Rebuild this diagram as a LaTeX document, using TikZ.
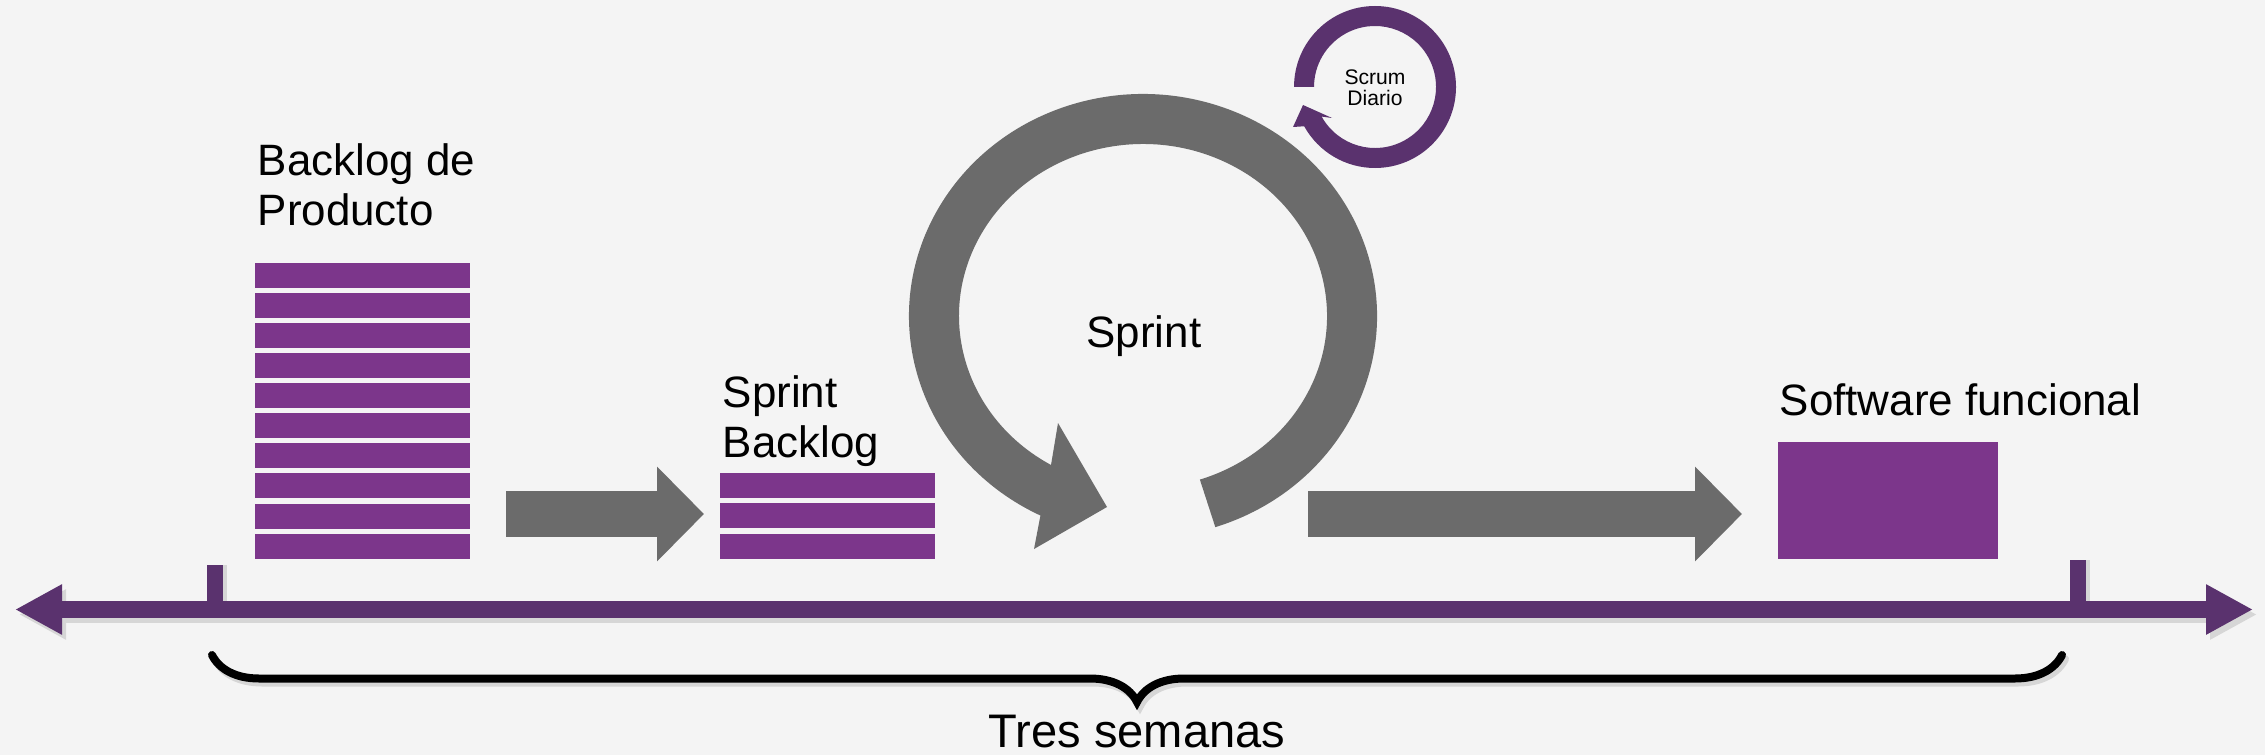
\documentclass[tikz,border=0pt]{standalone}
\usepackage{fontspec}
\setmainfont{Liberation Sans}
\usetikzlibrary{arrows.meta,positioning,decorations.pathreplacing}

\definecolor{canvas}{RGB}{244,244,244}
\definecolor{itempurple}{RGB}{124,54,139}
\definecolor{darkpurple}{RGB}{90,50,110}
\definecolor{flowgray}{RGB}{107,107,107}
\definecolor{shadowgray}{RGB}{214,214,214}

\begin{document}
\begin{tikzpicture}[
        x=0.1mm, y=0.1mm,
        item/.style={fill=itempurple, inner sep=0pt, anchor=north west,
            minimum width=21.5mm, minimum height=2.5mm},
        flow/.style={flowgray, line width=4.6mm,
            -{Triangle[length=4.7mm, width=9.2mm]}},
        timeline/.style={line width=1.7mm,
            {Triangle[length=4.7mm, width=4.7mm]}-{Triangle[length=4.7mm, width=4.7mm]}},
        tick/.style={darkpurple, line width=1.6mm},
        period/.style={decorate, decoration={brace, mirror, amplitude=4.7mm},
            line width=0.8mm, line cap=round},
        heading/.style={font=\fontsize{12.5}{14.2}\selectfont, align=left, inner sep=0pt},
        minor/.style={font=\fontsize{6}{6}\selectfont, align=center, inner sep=0pt}
    ]

    % Canvas
    \fill[canvas] (0,0) rectangle (2265,755);
    \useasboundingbox (0,0) rectangle (2265,755);

    % Product backlog
    \node[heading, anchor=base west] (pbtitle) at (257,530) {Backlog de\\Producto};
    \foreach \i in {0,...,9}
        \node[item] (pb\i) at (254,493-30.1*\i) {};

    % Sprint backlog
    \node[heading, anchor=base west] (sbtitle) at (722,298) {Sprint\\Backlog};
    \foreach \i in {0,1,2}
        \node[item] (sb\i) at (719,283-30.5*\i) {};

    % First flow
    \coordinate (f1s) at (506,241);
    \coordinate (f1e) at (704,241);
    \draw[flow] (f1s) -- (f1e);

    % Sprint loop
    \fill[flowgray] (1143,439) ++(-72:234 and 222)
        arc[start angle=-72, end angle=244, x radius=234, y radius=222]
        -- (1034,206) -- (1107,248) -- (1058,332)
        -- ([shift={(240:184 and 172)}]1143,439)
        arc[start angle=240, end angle=-72, x radius=184, y radius=172]
        -- cycle;
    \node[heading, anchor=base] (sprint) at (1144,408) {Sprint};

    % Daily scrum
    \fill[darkpurple] (1375,668) ++(180:81)
        arc[start angle=180, end angle=-151, radius=81]
        -- (1293,628) -- (1303,650) -- (1332,637)
        -- ([shift={(-151:61)}]1375,668)
        arc[start angle=-151, end angle=180, radius=61]
        -- cycle;
    \node[minor, anchor=base] (daily) at (1375,649) {Scrum\\Diario};

    % Working software
    \node[heading, anchor=base west] (swtitle) at (1779,340) {Software funcional};
    \node[item, minimum width=22mm, minimum height=11.7mm] (sw) at (1777,314) {};

    % Second flow
    \coordinate (f2s) at (1308,241);
    \coordinate (f2e) at (1742,241);
    \draw[flow] (f2s) -- (f2e);

    % Timeline
    \coordinate (tl) at (15,145.5);
    \coordinate (tr) at (2253,145.5);
    \draw[timeline, shadowgray] ([shift={(4,-5)}]tl) -- ([shift={(4,-5)}]tr);
    \draw[tick, shadowgray] (219,190) -- (219,141);
    \draw[tick, shadowgray] (2082,195) -- (2082,141);
    \draw[timeline, darkpurple] (tl) -- (tr);
    \draw[tick] (215,190) -- (215,145.5);
    \draw[tick] (2078,195) -- (2078,145.5);

    % Duration
    \draw[period, shadowgray] (215,96) -- (2065,96);
    \draw[period] (212,100) -- (2062,100);
    \node[heading, font=\fontsize{13.4}{14}\selectfont, anchor=base] (weeks) at (1137,8) {Tres semanas};

\end{tikzpicture}
\end{document}
